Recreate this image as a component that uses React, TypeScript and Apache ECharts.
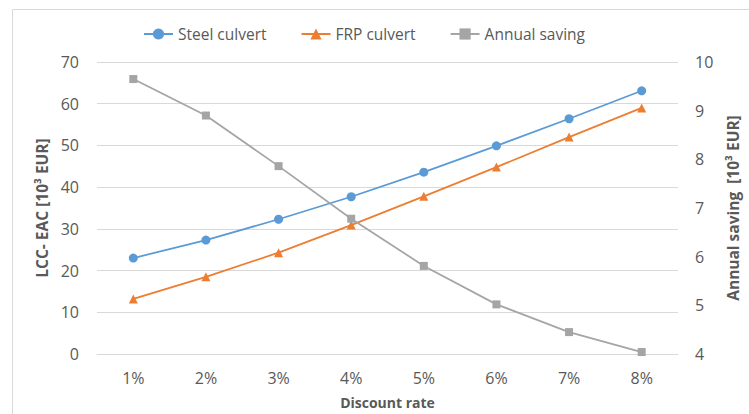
import React, { useEffect, useRef } from "react";
import * as echarts from "echarts";

const categories = ["1%", "2%", "3%", "4%", "5%", "6%", "7%", "8%"];
const steelCulvert = [23.0, 27.3, 32.3, 37.7, 43.6, 49.9, 56.4, 63.1];
const frpCulvert = [13.2, 18.5, 24.3, 30.9, 37.8, 44.8, 52.0, 59.0];
const annualSaving = [9.65, 8.9, 7.86, 6.78, 5.81, 5.02, 4.45, 4.04];

const FONT = "'Open Sans', sans-serif";
const TXT = "#595959";
const GRID = "#d9d9d9";

export default function App() {
  const ref = useRef<HTMLDivElement>(null);
  useEffect(() => {
    if (!ref.current) return;
    const chart = echarts.init(ref.current, undefined, { renderer: "svg" });
    chart.setOption({
      animation: false,
      backgroundColor: "#ffffff",
      textStyle: { fontFamily: FONT, color: TXT },
      graphic: [
        { type: "line", shape: { x1: 12.5, y1: 9.5, x2: 749, y2: 9.5 }, style: { stroke: GRID, lineWidth: 1 } },
        { type: "line", shape: { x1: 12.5, y1: 9.5, x2: 12.5, y2: 414 }, style: { stroke: GRID, lineWidth: 1 } },
      ],
      legend: {
        left: 138,
        top: 21,
        itemWidth: 29,
        itemHeight: 14,
        itemGap: 34,
        textStyle: { fontFamily: FONT, fontSize: 15.5, color: TXT },
        data: ["Steel culvert", "FRP culvert", "Annual saving"],
      },
      grid: { left: 97, right: 71, top: 62, height: 293.5 },
      xAxis: {
        type: "category",
        data: categories,
        boundaryGap: true,
        axisLine: { show: true, lineStyle: { color: GRID } },
        axisTick: { show: false },
        axisLabel: { fontFamily: FONT, fontSize: 16, color: TXT, margin: 16 },
        name: "Discount rate",
        nameLocation: "middle",
        nameGap: 41,
        nameTextStyle: { fontFamily: FONT, fontSize: 14, fontWeight: "bold", color: TXT },
      },
      yAxis: [
        {
          type: "value",
          min: 0,
          max: 70,
          interval: 10,
          axisLine: { show: false },
          axisTick: { show: false },
          splitLine: { lineStyle: { color: GRID } },
          axisLabel: { fontFamily: FONT, fontSize: 16, color: TXT, margin: 18 },
          name: "LCC- EAC [10³ EUR]",
          nameLocation: "middle",
          nameRotate: 90,
          nameGap: 44,
          nameTextStyle: { fontFamily: FONT, fontSize: 15.5, fontWeight: "bold", color: TXT },
        },
        {
          type: "value",
          min: 4,
          max: 10,
          interval: 1,
          position: "right",
          axisLine: { show: false },
          axisTick: { show: false },
          splitLine: { show: false },
          axisLabel: { fontFamily: FONT, fontSize: 16, color: TXT, margin: 17 },
          name: "Annual saving  [10³ EUR]",
          nameLocation: "middle",
          nameRotate: 90,
          nameGap: 47,
          nameTextStyle: { fontFamily: FONT, fontSize: 15.5, fontWeight: "bold", color: TXT },
        },
      ],
      series: [
        {
          name: "Steel culvert",
          type: "line",
          data: steelCulvert,
          yAxisIndex: 0,
          symbol: "circle",
          symbolSize: 9,
          lineStyle: { width: 1.75, color: "#5B9BD5" },
          itemStyle: { color: "#5B9BD5" },
        },
        {
          name: "FRP culvert",
          type: "line",
          data: frpCulvert,
          yAxisIndex: 0,
          symbol: "triangle",
          symbolSize: 9,
          lineStyle: { width: 1.75, color: "#ED7D31" },
          itemStyle: { color: "#ED7D31" },
        },
        {
          name: "Annual saving",
          type: "line",
          data: annualSaving,
          yAxisIndex: 1,
          symbol: "rect",
          symbolSize: 8,
          lineStyle: { width: 1.75, color: "#A5A5A5" },
          itemStyle: { color: "#A5A5A5" },
        },
      ],
    });
    return () => chart.dispose();
  }, []);
  return <div ref={ref} style={{ width: 749, height: 414, position: "fixed", left: 0, top: 0 }} />;
}
